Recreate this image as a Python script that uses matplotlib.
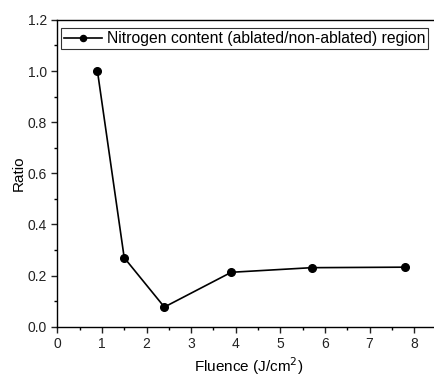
import matplotlib
matplotlib.use("Agg")
import matplotlib.pyplot as plt
from matplotlib.ticker import MultipleLocator, FormatStrFormatter

plt.rcParams['font.family'] = ['Liberation Sans', 'DejaVu Sans']

# fluence vs nitrogen ratio
fluence = [0.9, 1.5, 2.4, 3.9, 5.7, 7.8]
ratio = [1.0, 0.27, 0.077, 0.213, 0.231, 0.233]
series_label = "Nitrogen content (ablated/non-ablated) region"

fig = plt.figure(figsize=(4.34, 3.76), dpi=100)
# axes runs off the right edge like in the original
ax = fig.add_axes([0.132, 0.131, 0.884, 0.816])

ax.plot(fluence, ratio, color='black', lw=1.2, marker='o', ms=5.5, label=series_label)

ax.set_xlim(0, 8.6)
ax.set_ylim(0, 1.2)
ax.xaxis.set_major_locator(MultipleLocator(1))
ax.xaxis.set_minor_locator(MultipleLocator(0.5))
ax.yaxis.set_major_locator(MultipleLocator(0.2))
ax.yaxis.set_minor_locator(MultipleLocator(0.1))
ax.yaxis.set_major_formatter(FormatStrFormatter('%.1f'))
ax.tick_params(which='major', direction='out', length=4, width=1, labelsize=10, colors='#222222')
ax.tick_params(which='minor', direction='out', length=2.5, width=1)
ax.spines['right'].set_visible(False)
for s in ['left', 'bottom', 'top']:
    ax.spines[s].set_linewidth(1)

ax.set_xlabel('Fluence (J/cm$^2$)', fontsize=11, labelpad=3)
ax.set_ylabel('Ratio', fontsize=11, labelpad=1)

leg = ax.legend(loc='upper left', bbox_to_anchor=(0.0104, 0.974), fontsize=11.3,
                frameon=True, fancybox=False, edgecolor='black', borderpad=0.2,
                handlelength=2.4, handletextpad=0.3, borderaxespad=0, markerscale=0.8)
leg.get_frame().set_linewidth(0.8)

fig.savefig('out.png', dpi=100)
